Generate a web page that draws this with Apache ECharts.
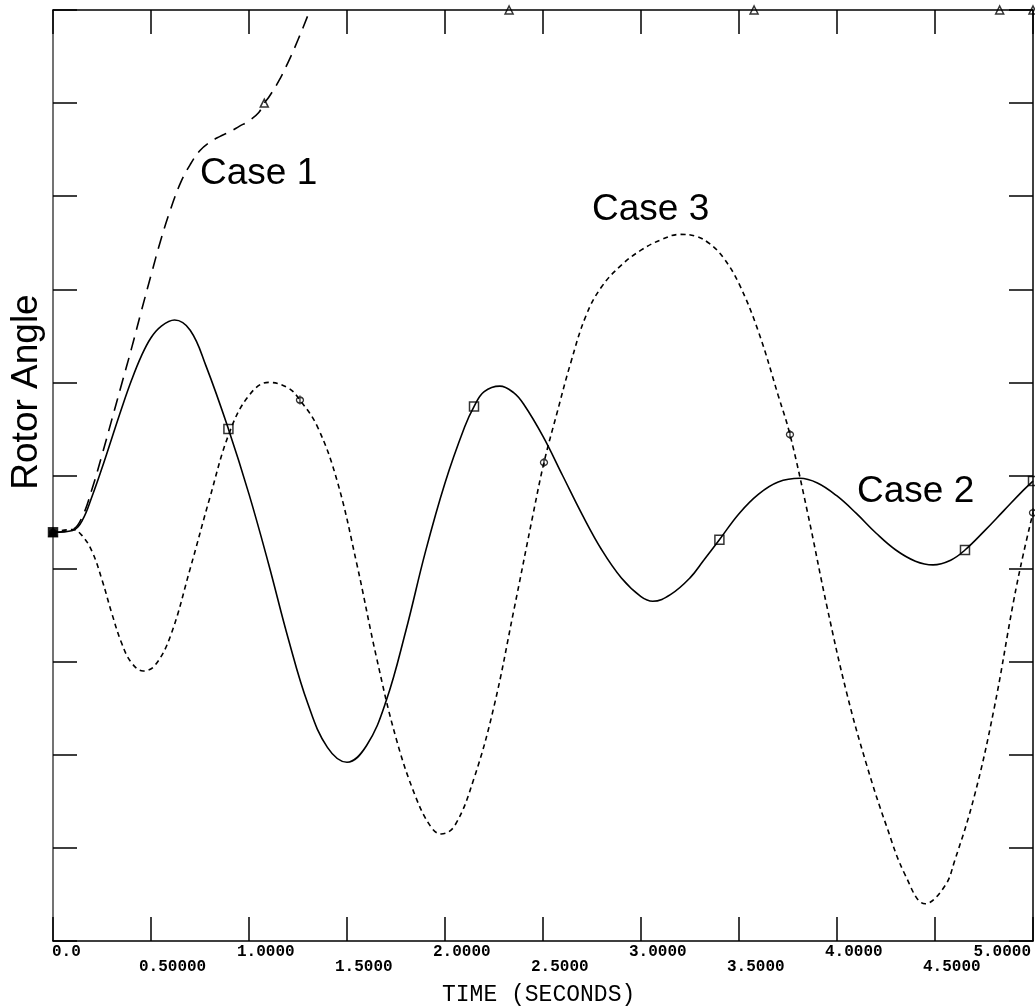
<!DOCTYPE html>
<html>
<head>
<meta charset="utf-8">
<script src="https://cdn.jsdelivr.net/npm/echarts@6/dist/echarts.min.js"></script>
<style>
  html, body { margin: 0; padding: 0; background: #fff; }
  #chart { width: 1035px; height: 1008px; }
</style>
</head>
<body>
<div id="chart"></div>
<script>
// Rotor angle traces, [time (s), angle]
const case1 = [
  [0, 43.9], [0.1, 44.2], [0.15, 45.6], [0.2, 48.6], [0.25, 52.2], [0.3, 56.0], [0.35, 59.8],
  [0.4, 63.6], [0.45, 67.6], [0.5, 71.5], [0.55, 75.3], [0.6, 78.6], [0.65, 81.4], [0.7, 83.4],
  [0.75, 84.9], [0.8, 85.8], [0.85, 86.4], [0.9, 86.9], [0.95, 87.5], [1.0, 88.1], [1.05, 89.0],
  [1.078, 90.0], [1.1, 90.6], [1.15, 92.3], [1.2, 94.4], [1.25, 96.8], [1.3, 99.4], [1.35, 102.2],
  [1.4, 105.2], [1.5, 112.0]
];
const case2 = [
  [0, 43.9], [0.1, 44.1], [0.15, 45.2], [0.2, 47.8], [0.25, 50.8], [0.3, 54.0], [0.35, 57.2],
  [0.4, 60.2], [0.45, 62.8], [0.5, 64.8], [0.55, 66.0], [0.62, 66.7], [0.7, 65.6], [0.78, 61.8],
  [0.895, 55.0], [1.0, 48.0], [1.1, 40.5], [1.2, 32.5], [1.3, 25.5], [1.4, 20.8], [1.5, 19.2],
  [1.6, 21.0], [1.7, 25.8], [1.8, 33.3], [1.9, 41.8], [2.0, 49.2], [2.1, 55.2], [2.148, 57.4],
  [2.2, 59.0], [2.28, 59.6], [2.35, 58.9], [2.4, 57.7], [2.5, 54.2], [2.6, 50.0], [2.7, 45.8],
  [2.8, 42.0], [2.9, 39.0], [3.0, 37.0], [3.06, 36.5], [3.15, 37.2], [3.25, 39.0], [3.32, 40.9],
  [3.4, 43.1], [3.5, 45.9], [3.6, 48.0], [3.7, 49.3], [3.81, 49.7], [3.9, 49.2], [4.0, 47.8],
  [4.1, 45.9], [4.2, 43.8], [4.3, 42.0], [4.4, 40.8], [4.49, 40.4], [4.58, 40.9], [4.653, 42.0],
  [4.75, 44.0], [4.85, 46.2], [4.95, 48.4], [5.0, 49.4]
];
const case3 = [
  [0, 43.9], [0.1, 44.2], [0.15, 43.5], [0.2, 41.8], [0.25, 38.8], [0.3, 35.2], [0.35, 32.0],
  [0.4, 29.9], [0.46, 29.0], [0.52, 29.6], [0.6, 32.8], [0.7, 40.0], [0.8, 47.6], [0.9, 54.6],
  [1.0, 58.6], [1.1, 60.0], [1.2, 59.4], [1.26, 58.1], [1.35, 55.2], [1.45, 49.4], [1.55, 40.5],
  [1.65, 30.5], [1.75, 21.8], [1.85, 15.5], [1.93, 12.2], [1.98, 11.5], [2.05, 12.4], [2.15, 17.6],
  [2.25, 25.2], [2.35, 35.4], [2.45, 45.9], [2.505, 51.4], [2.57, 56.6], [2.64, 62.0], [2.72, 67.2],
  [2.8, 70.3], [2.9, 72.6], [3.0, 74.2], [3.1, 75.3], [3.2, 75.9], [3.28, 75.7], [3.35, 74.9],
  [3.42, 73.4], [3.5, 70.6], [3.6, 65.4], [3.7, 58.6], [3.76, 54.4], [3.85, 46.0], [3.95, 35.8],
  [4.05, 26.6], [4.15, 19.0], [4.25, 12.5], [4.35, 7.0], [4.45, 4.0], [4.55, 5.9], [4.6, 8.6],
  [4.7, 15.5], [4.8, 24.8], [4.9, 36.4], [4.95, 41.5], [5.0, 46.0]
];

// Plot symbols (case 1 symbols past the top of the scale sit on the upper limit)
const case1Marks = [[0, 43.9], [1.078, 90.0], [2.327, 100], [3.577, 100], [4.83, 100], [5.0, 100]];
const case2Marks = [[0, 43.9], [0.895, 55.0], [2.148, 57.4], [3.40, 43.1], [4.653, 42.0], [5.0, 49.4]];
const case3Marks = [[0, 43.9], [1.26, 58.1], [2.505, 51.4], [3.76, 54.4], [5.0, 46.0]];

const timeTicks = [0, 0.5, 1, 1.5, 2, 2.5, 3, 3.5, 4, 4.5, 5];
const timeTickLabels = ['0.0', '0.50000', '1.0000', '1.5000', '2.0000', '2.5000',
                        '3.0000', '3.5000', '4.0000', '4.5000', '5.0000'];

const caseLabels = ['Case 1', 'Case 2', 'Case 3'];
const yTitle = 'Rotor Angle';
const xTitle = 'TIME (SECONDS)';

const chart = echarts.init(document.getElementById('chart'), null, { renderer: 'canvas' });

function frameAxis(extra, lineColor) {
  return Object.assign({
    type: 'value',
    axisLine: { show: true, onZero: false, lineStyle: { color: lineColor || '#000', width: 1.5 } },
    axisTick: { show: true, inside: true, length: 24, lineStyle: { color: '#000', width: 1.5 } },
    axisLabel: { show: false },
    splitLine: { show: false }
  }, extra);
}

const markStyle = {
  color: (p) => (p.dataIndex === 0 ? '#000' : 'rgba(0,0,0,0)'),
  borderColor: '#000',
  borderWidth: 1.5
};

function markSeries(data, symbol, size) {
  return {
    type: 'scatter', data: data, symbol: symbol, symbolSize: size,
    itemStyle: markStyle, clip: false, silent: true, z: 5
  };
}

function curveSeries(data, dash) {
  return {
    type: 'line', data: data, smooth: 0.4, showSymbol: false,
    clip: true, silent: true,
    lineStyle: { color: '#000', width: 1.6, type: dash }
  };
}

chart.setOption({
  animation: false,
  backgroundColor: '#fff',
  grid: { left: 53, right: 2, top: 10, bottom: 67 },
  xAxis: [
    frameAxis({ min: 0, max: 5, interval: 0.5, position: 'bottom' }),
    frameAxis({ min: 0, max: 5, interval: 0.5, position: 'top' })
  ],
  yAxis: [
    frameAxis({ min: 0, max: 100, interval: 10, position: 'left' }, '#444'),
    frameAxis({ min: 0, max: 100, interval: 10, position: 'right' })
  ],
  series: [
    curveSeries(case1, [13, 8]),
    curveSeries(case2, 'solid'),
    curveSeries(case3, [5, 4]),
    markSeries(case1Marks, 'triangle', 8),
    markSeries(case2Marks, 'rect', 9),
    markSeries(case3Marks, 'path://M4,0 C6.2,0 8,1.8 8,4 C8,6.2 6.2,8 4,8 C1.8,8 0,6.2 0,4 C0,1.8 1.8,0 4,0 Z M4,-2 L4,10', [7, 9])
  ]
});

// Staggered time labels under the axis
const tickFont = 'bold 16px "Liberation Mono", "DejaVu Sans Mono", monospace';
const graphics = timeTicks.map((t, i) => {
  const px = chart.convertToPixel({ xAxisIndex: 0 }, t);
  const last = i === timeTicks.length - 1;
  let x = px - 12;
  if (i === 0) x = px - 1;
  return {
    type: 'text',
    silent: true,
    style: {
      x: last ? px - 2 : x,
      y: i % 2 === 0 ? 952 : 967,
      text: timeTickLabels[i],
      font: tickFont,
      fill: '#000',
      align: last ? 'right' : 'left',
      verticalAlign: 'middle'
    }
  };
});

const caseFont = '37px "Liberation Sans", Arial, sans-serif';
graphics.push(
  { type: 'text', silent: true, style: { x: 200, y: 174, text: caseLabels[0], font: caseFont, fill: '#000', align: 'left', verticalAlign: 'middle' } },
  { type: 'text', silent: true, style: { x: 857, y: 492, text: caseLabels[1], font: caseFont, fill: '#000', align: 'left', verticalAlign: 'middle' } },
  { type: 'text', silent: true, style: { x: 592, y: 210, text: caseLabels[2], font: caseFont, fill: '#000', align: 'left', verticalAlign: 'middle' } },
  { type: 'text', silent: true, x: 27, y: 392, rotation: Math.PI / 2,
    style: { x: 0, y: 0, text: yTitle, font: caseFont, fill: '#000', align: 'center', verticalAlign: 'middle' } },
  { type: 'text', silent: true,
    style: { x: 442, y: 995, text: xTitle, font: '23px "Liberation Mono", "Courier New", monospace', fill: '#000', align: 'left', verticalAlign: 'middle' } }
);

chart.setOption({ graphic: graphics });
</script>
</body>
</html>
